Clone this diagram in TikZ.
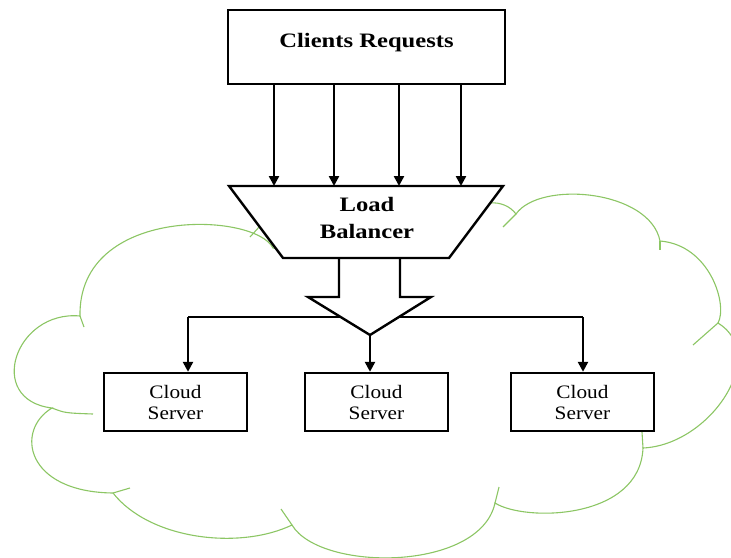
\documentclass[tikz,border=0pt]{standalone}
\usepackage{fontspec}
\usepackage{tikz}
\usetikzlibrary{arrows.meta}
\usetikzlibrary{positioning}
\setmainfont{Liberation Serif}
\newfontfamily\boldwide[FakeStretch=1.2]{Liberation Serif}
\newfontfamily\plainwide[FakeStretch=1.12]{Liberation Serif}
\definecolor{cloud-green}{RGB}{140, 198, 100}

\begin{document}
\begin{tikzpicture}[x=1pt, y=-1pt,
        box/.style={draw, line width=2.4pt, fill=white, inner sep=0pt},
        server/.style={box, minimum width=143pt, minimum height=58pt, align=center,
            font=\plainwide\fontsize{19}{21}\selectfont},
        heading/.style={font=\boldwide\bfseries\fontsize{20.5}{26.5}\selectfont},
        feed/.style={line width=2.4pt, -{Triangle[length=10pt, width=10pt]}},
        puff/.style={cloud-green, line width=1.1pt}]
    \useasboundingbox (0,0) rectangle (731,557);
    % the cloud, bump by bump
    \draw[puff, fill=white] (273,248)
        .. controls (255,212) and (78,205) .. (80,316)
        .. controls (15,310) and (-15,400) .. (52,408)
        .. controls (15,430) and (25,492) .. (113,493)
        .. controls (150,540) and (240,550) .. (292,525)
        .. controls (320,572) and (480,572) .. (495,503)
        .. controls (525,522) and (640,520) .. (643,448)
        .. controls (710,445) and (770,355) .. (718,323)
        .. controls (728,305) and (710,245) .. (660,241)
        .. controls (650,190) and (540,180) .. (516,214)
        .. controls (510,206) and (500,202) .. (490,203)
        -- (470,215) -- (290,250) -- cycle;
    \foreach \xa/\ya/\xb/\yb in {250/237/260/226, 80/316/84/327, 113/493/130/488,
            292/525/281/509, 495/503/499/487, 643/448/642/432, 718/323/693/345,
            660/241/660/250, 516/214/503/227}
        \draw[puff] (\xa,\ya) -- (\xb,\yb);
    \draw[puff] (52,408) .. controls (65,413) .. (93,414);

    \node[box, minimum width=277pt, minimum height=74pt, text height=10pt, text depth=10pt,
        heading] (clients) at (366.5,47) {Clients Requests};

    \node[server] (srvA) at (175.5,402) {Cloud\\Server};
    \node[server] (srvB) at (376.5,402) {Cloud\\Server};
    \node[server] (srvC) at (582.5,402) {Cloud\\Server};

    \coordinate (splitA) at (188,317);
    \coordinate (splitC) at (583,317);
    \coordinate (bigtip) at (370,335);
    \draw[line width=2.4pt] (splitA) -- (splitC);
    \draw[feed] (splitA) -- (splitA |- srvA.north);
    \draw[feed] (splitC) -- (splitC |- srvC.north);
    \draw[feed] (bigtip) -- (bigtip |- srvB.north);

    \draw[line width=2.4pt, fill=white, line join=miter]
        (339,258) -- (339,297) -- (308,297) -- (bigtip) -- (431,297) -- (400,297) -- (400,258);

    \coordinate (lbnw) at (229,186);
    \coordinate (lbne) at (503,186);
    \coordinate (lbse) at (449,258);
    \coordinate (lbsw) at (283,258);
    \draw[line width=2.4pt, fill=white, line join=miter] (lbnw) -- (lbne) -- (lbse) -- (lbsw) -- cycle;
    \node[heading, align=center] (lb) at (367,218) {Load\\Balancer};

    \foreach \x in {274,334,399,461} {
        \coordinate (req) at (\x,0);
        \draw[feed] (clients.south -| req) -- (lbnw -| req);
    }
\end{tikzpicture}
\end{document}
